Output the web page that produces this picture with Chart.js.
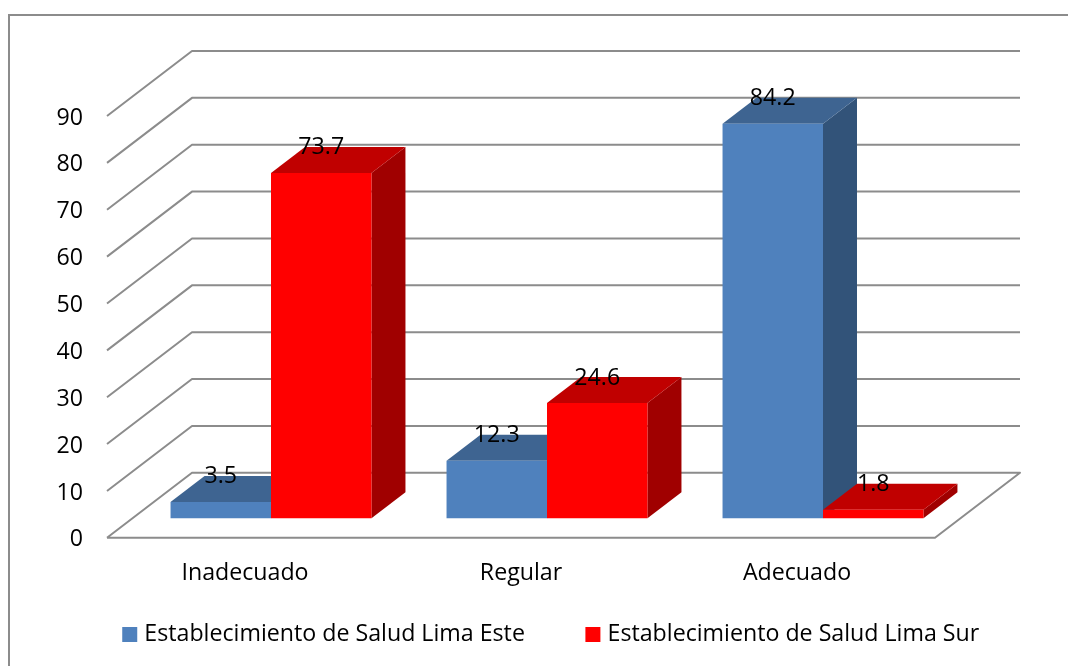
<!DOCTYPE html>
<html lang="es">
<head>
<meta charset="UTF-8" />
<title>Establecimiento de Salud</title>
<script src="https://cdn.jsdelivr.net/npm/chart.js"></script>
<style>
  html, body { margin: 0; background: #fff; }
  canvas { display: block; }
</style>
</head>
<body>
<canvas id="chart" width="1068" height="666"></canvas>
<script>
const categories = ['Inadecuado', 'Regular', 'Adecuado'];
const seriesNames = ['Establecimiento de Salud Lima Este', 'Establecimiento de Salud Lima Sur'];
const limaEste = [3.5, 12.3, 84.2];
const limaSur = [73.7, 24.6, 1.8];

const FONT = { family: '"Open Sans", sans-serif', size: 23.2 };
const GRID = '#8c8c8c';
// offset of the back wall and of the bars inside the 3d box
const WALL = { x: 85, y: -65 };
const SHIFT = { x: 26, y: -19.5 };
const DEPTH = { x: 34, y: -26 };
const FACES = [
  { top: '#3e6491', side: '#325379' },
  { top: '#c00000', side: '#a00000' }
];

function poly(ctx, pts, color) {
  ctx.fillStyle = color;
  ctx.beginPath();
  pts.forEach((p, i) => i ? ctx.lineTo(p[0], p[1]) : ctx.moveTo(p[0], p[1]));
  ctx.closePath();
  ctx.fill();
}

const box3d = {
  id: 'box3d',
  // the x labels sit lower than the short axis box, and get clipped to it otherwise
  afterLayout(chart) {
    chart.scales.x.bottom = chart.height;
  },
  beforeDraw(chart) {
    const ctx = chart.ctx;
    ctx.save();
    ctx.strokeStyle = GRID;
    ctx.lineWidth = 2;
    ctx.strokeRect(9, 15, 1100, 700);
    ctx.restore();
  },
  // takes over the dataset drawing: the left bar has to go first so the right one covers its faces
  beforeDatasetsDraw(chart) {
    const ctx = chart.ctx, y = chart.scales.y, a = chart.chartArea;
    ctx.save();
    ctx.strokeStyle = GRID;
    ctx.lineWidth = 2;
    ctx.lineJoin = 'round';
    y.ticks.forEach(t => {
      const py = y.getPixelForValue(t.value);
      ctx.beginPath();
      ctx.moveTo(a.left, py);
      ctx.lineTo(a.left + WALL.x, py + WALL.y);
      ctx.lineTo(a.right + WALL.x, py + WALL.y);
      if (t.value === 0) {
        ctx.lineTo(a.right, py);
        ctx.lineTo(a.left, py);
      }
      ctx.stroke();
    });
    ctx.restore();

    chart.data.datasets.forEach((ds, i) => {
      const meta = chart.getDatasetMeta(i), f = FACES[i];
      ctx.save();
      ctx.translate(SHIFT.x, SHIFT.y);
      meta.data.forEach(b => {
        const l = b.x - b.width / 2, r = b.x + b.width / 2;
        poly(ctx, [[r, b.y], [r + DEPTH.x, b.y + DEPTH.y], [r + DEPTH.x, b.base + DEPTH.y], [r, b.base]], f.side);
        poly(ctx, [[l, b.y], [l + DEPTH.x, b.y + DEPTH.y], [r + DEPTH.x, b.y + DEPTH.y], [r, b.y]], f.top);
      });
      meta.controller.draw();
      ctx.restore();
    });
    return false;
  },
  afterDraw(chart) {
    const ctx = chart.ctx;
    ctx.save();
    ctx.fillStyle = '#000';
    ctx.font = FONT.size + 'px ' + FONT.family;
    ctx.textAlign = 'center';
    ctx.textBaseline = 'middle';
    chart.data.datasets.forEach((ds, i) => {
      chart.getDatasetMeta(i).data.forEach((b, j) => {
        ctx.fillText(String(ds.data[j]), b.x + SHIFT.x, b.y + SHIFT.y - 25);
      });
    });
    ctx.restore();
  }
};

new Chart(document.getElementById('chart'), {
  type: 'bar',
  plugins: [box3d],
  data: {
    labels: categories,
    datasets: [
      { label: seriesNames[0], data: limaEste, backgroundColor: '#4f81bd' },
      { label: seriesNames[1], data: limaSur, backgroundColor: '#ff0000' }
    ]
  },
  options: {
    responsive: false,
    animation: false,
    barPercentage: 1,
    categoryPercentage: 0.728,
    layout: { padding: { left: 38, right: 0, top: 116, bottom: 10 } },
    plugins: {
      tooltip: { enabled: false },
      legend: {
        position: 'bottom',
        labels: {
          color: '#000',
          font: FONT,
          usePointStyle: true,
          pointStyle: 'rect',
          boxWidth: 6,
          boxHeight: 15,
          padding: 65
        }
      }
    },
    scales: {
      x: {
        grid: { display: false },
        border: { display: false },
        ticks: { color: '#000', font: FONT, padding: 14, maxRotation: 0 },
        afterFit(s) { s.height = 20; }
      },
      y: {
        min: 0,
        max: 90,
        grid: { display: false },
        border: { display: false },
        ticks: { color: '#000', font: FONT, stepSize: 10, padding: 16, labelOffset: 2 },
        afterFit(s) { s.width = 69; }
      },
      // empty axis, keeps the box clear of the wall offset on the right
      pad: {
        type: 'linear',
        axis: 'y',
        position: 'right',
        grid: { display: false },
        border: { display: false },
        ticks: { display: false },
        afterFit(s) { s.width = 133; }
      }
    }
  }
});
</script>
</body>
</html>
